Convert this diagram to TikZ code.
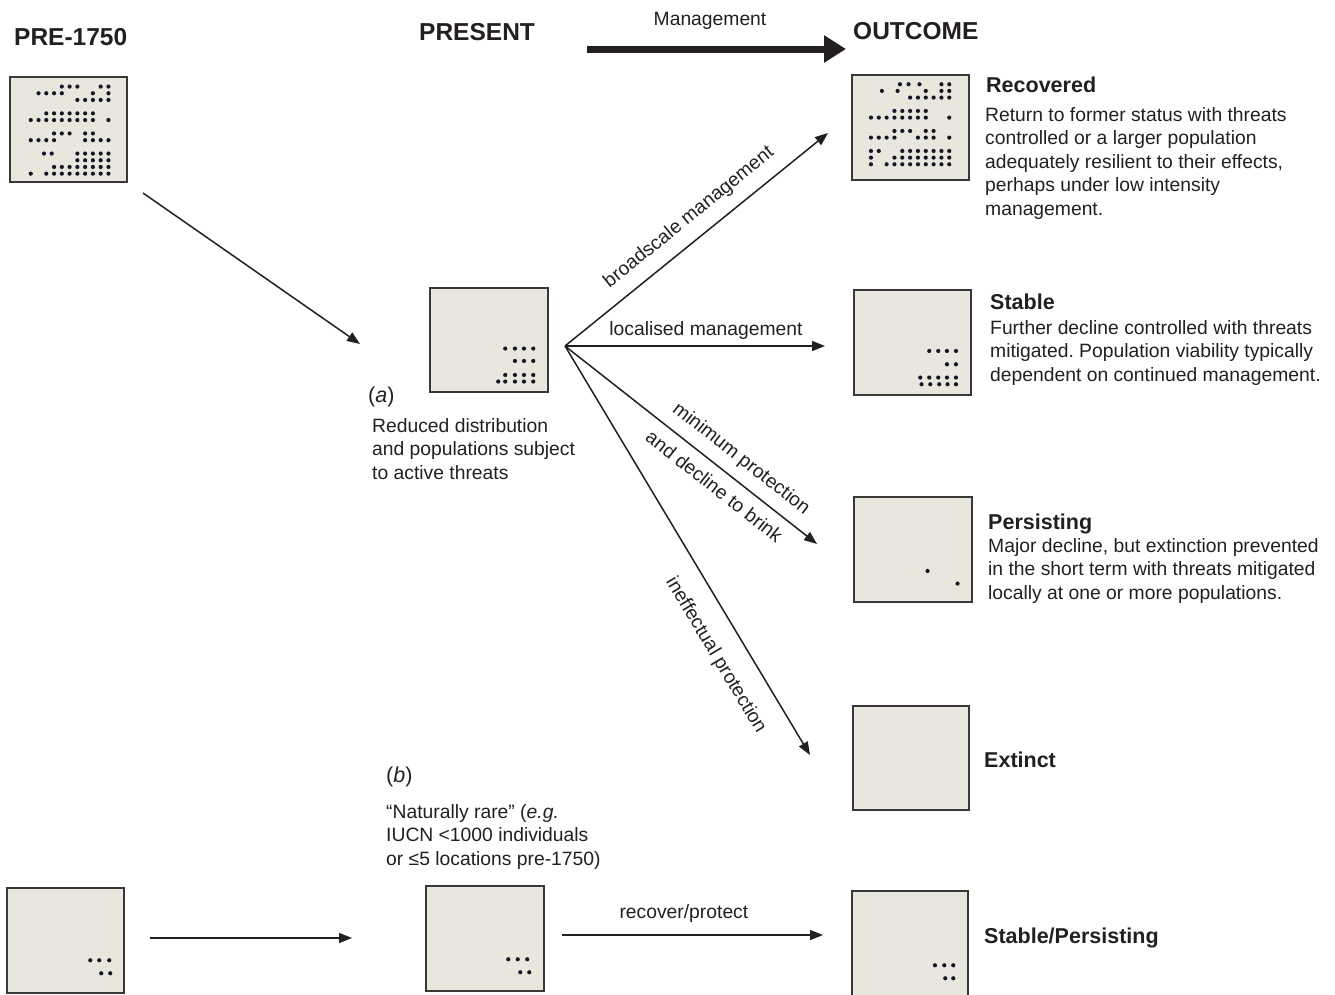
\documentclass[tikz,border=0pt]{standalone}
\usepackage{fontspec}
\setmainfont{Liberation Sans}
\usetikzlibrary{arrows.meta}
\definecolor{ink}{HTML}{231F20}
\definecolor{boxfill}{HTML}{E9E6DE}
\definecolor{boxline}{HTML}{383838}
\definecolor{dotc}{HTML}{141826}
\begin{document}
\frenchspacing
\begin{tikzpicture}[x=1pt,y=-1pt,
  every node/.style={text=ink},
  popbox/.style={draw=boxline, line width=1.5pt, fill=boxfill, inner sep=0pt,
    minimum width=117pt, minimum height=105pt},
  head/.style={font=\fontsize{24.5}{28}\selectfont\bfseries, anchor=north west, inner sep=0pt},
  ttl/.style={font=\fontsize{21.5}{25}\selectfont\bfseries, anchor=north west, inner sep=0pt},
  body/.style={font=\fontsize{19.3}{23.5}\selectfont, align=left, anchor=north west, inner sep=0pt},
  tag/.style={font=\fontsize{21.5}{25}\selectfont, anchor=north west, inner sep=0pt},
  lbl/.style={font=\fontsize{19.3}{23.5}\selectfont, inner sep=1pt},
  arr/.style={draw=ink, line width=1.5pt, -{Triangle[length=13pt,width=10pt]}},
  bigarr/.style={draw=ink, line width=7pt, -{Triangle[length=22pt,width=26pt]}},
  dot/.style={fill=dotc}
]
\useasboundingbox (0,0) rectangle (1335,994);
\clip (0,0) rectangle (1335,994);

% ---------- headings ----------
\node[head] (hPre) at (14,28) {PRE-1750};
\node[head] (hPres) at (419,23) {PRESENT};
\node[head] (hOut) at (853,22) {OUTCOME};
\coordinate (mA) at (587,49);
\coordinate (mB) at (846,49);
\draw[bigarr] (mA) -- node[lbl, above=15pt, pos=0.475] {Management} (mB);

% ---------- boxes ----------
\node[popbox] (pre) at (68.5,129.5) {};
\node[popbox, minimum width=118pt, minimum height=104pt] (presA) at (489,340) {};
\node[popbox] (rec) at (910.5,127.5) {};
\node[popbox] (sta) at (912.5,342.5) {};
\node[popbox, minimum width=118pt] (per) at (913,549.5) {};
\node[popbox, minimum width=116pt, minimum height=104pt] (ext) at (911,758) {};
\node[popbox] (preB) at (65.5,940.5) {};
\node[popbox, minimum width=118pt] (presB) at (485,938.5) {};
\node[popbox, minimum width=116pt] (stper) at (910,943.5) {};

% ---------- dots ----------
\begin{scope}[shift={(pre.north west)}]
  \foreach \r/\cs in {0/{4,5,6,9,10},1/{1,2,3,4,8,10},2/{6,7,8,9,10},4/{2,3,4,5,6,7,8},
      5/{0,1,2,3,4,5,6,7,8,10},7/{3,4,5,7,8},8/{0,1,2,3,7,8,9,10},10/{1.7,2.7,6,7,8,9,10},
      11/{6,7,8,9,10},12/{3,4,5,6,7,8,9,10},13/{0,2,3,4,5,6,7,8,9,10}}
    \foreach \c in \cs \fill[dot] (21.5+7.77*\c, 10.3+6.7*\r) circle (2.1);
\end{scope}
\begin{scope}[shift={(rec.north west)}]
  \foreach \r/\cs in {0/{3.7,4.8,6.2,9,10},1/{1.4,3.4,7,9,10},2/{5,6,7,8,9,10},4/{3,4,5,6,7},
      5/{0,1,2,3,4,5,6,7,10},7/{3,4,5,7,8},8/{0,1,2,3,6,7,8,10},10/{0,1,4,5,6,7,8,9,10},
      11/{0,3,4,5,6,7,8,9,10},12/{0,2,3,4,5,6,7,8,9,10}}
    \foreach \c in \cs \fill[dot] (19.7+7.83*\c, 10+6.67*\r) circle (2.1);
\end{scope}
\begin{scope}[shift={(presA.north west)}]
  \foreach \p in {(76,61.3),(85.7,61.3),(94.7,61.3),(104,61.3),
      (85.7,73.7),(94.7,73.7),(104,73.7),
      (76,87.7),(85.7,87.7),(94.7,87.7),(104,87.7),
      (69,94.3),(76,94.3),(85.7,94.3),(94.7,94.3),(104,94.3)}
    \fill[dot] \p circle (2.1);
\end{scope}
\begin{scope}[shift={(sta.north west)}]
  \foreach \p in {(76,61.7),(85,61.7),(93.7,61.7),(102.7,61.7),
      (93.7,75),(102.7,75),
      (67,88.3),(76,88.3),(85,88.3),(93.7,88.3),(102.7,88.3),
      (68.3,95),(77,95),(86,95),(94.3,95),(102.7,95)}
    \fill[dot] \p circle (2.1);
\end{scope}
\begin{scope}[shift={(per.north west)}]
  \foreach \p in {(74.3,74.7),(104.3,87.3)}
    \fill[dot] \p circle (2.1);
\end{scope}
\begin{scope}[shift={(preB.north west)}]
  \foreach \p in {(84,73),(93,73),(103,73),(95,86),(104,86)}
    \fill[dot] \p circle (2.1);
\end{scope}
\begin{scope}[shift={(presB.north west)}]
  \foreach \p in {(83,74),(92.5,74),(102,74),(95,87),(104,87)}
    \fill[dot] \p circle (2.1);
\end{scope}
\begin{scope}[shift={(stper.north west)}]
  \foreach \p in {(83.7,75),(93,75),(102,75),(94,88),(102,88)}
    \fill[dot] \p circle (2.1);
\end{scope}

% ---------- connectors ----------
\coordinate (p1) at (143,193);
\coordinate (p2) at (360,344);
\draw[arr] (p1) -- (p2);

\coordinate (fan) at (565,346);
\coordinate (tRec) at (828,133);
\coordinate (tSta) at (825,346);
\coordinate (tPer) at (817,544);
\coordinate (tExt) at (810,755);
\draw[arr] (fan) -- node[lbl, sloped, above=11pt, pos=0.524] {broadscale management} (tRec);
\draw[arr] (fan) -- node[lbl, above=5pt, pos=0.542] {localised management} (tSta);
\draw[arr] (fan) -- node[lbl, sloped, above=9pt, pos=0.65] {minimum protection}
                    node[lbl, sloped, below=9pt, pos=0.637] {and decline to brink} (tPer);
\draw[arr] (fan) -- node[lbl, sloped, below=19pt, pos=0.719] {ineffectual protection} (tExt);

\coordinate (q1) at (150,938);
\coordinate (q2) at (352,938);
\draw[arr] (q1) -- (q2);
\coordinate (r1) at (562,935);
\coordinate (r2) at (823,935);
\draw[arr] (r1) -- node[lbl, above=11pt, pos=0.467] {recover/protect} (r2);

% ---------- texts ----------
\node[tag] (tagA) at (368,387) {(\textit{a})};
\node[body] (txtA) at (372,418) {Reduced distribution\\and populations subject\\to active threats};
\node[tag] (tagB) at (386,767) {(\textit{b})};
\node[body] (txtB) at (386,804) {“Naturally rare” (\textit{e.g.}\\IUCN <1000 individuals\\or ≤5 locations pre-1750)};

\node[ttl] (ttlRec) at (986,77) {Recovered};
\node[body] (txtRec) at (985,107) {Return to former status with threats\\controlled or a larger population\\adequately resilient to their effects,\\perhaps under low intensity\\management.};
\node[ttl] (ttlSta) at (990,294) {Stable};
\node[body] (txtSta) at (990,320) {Further decline controlled with threats\\mitigated. Population viability typically\\dependent on continued management.};
\node[ttl] (ttlPer) at (988,514) {Persisting};
\node[body] (txtPer) at (988,538) {Major decline, but extinction prevented\\in the short term with threats mitigated\\locally at one or more populations.};
\node[ttl] (ttlExt) at (984,752) {Extinct};
\node[ttl] (ttlSP) at (984,928) {Stable/Persisting};
\end{tikzpicture}
\end{document}
